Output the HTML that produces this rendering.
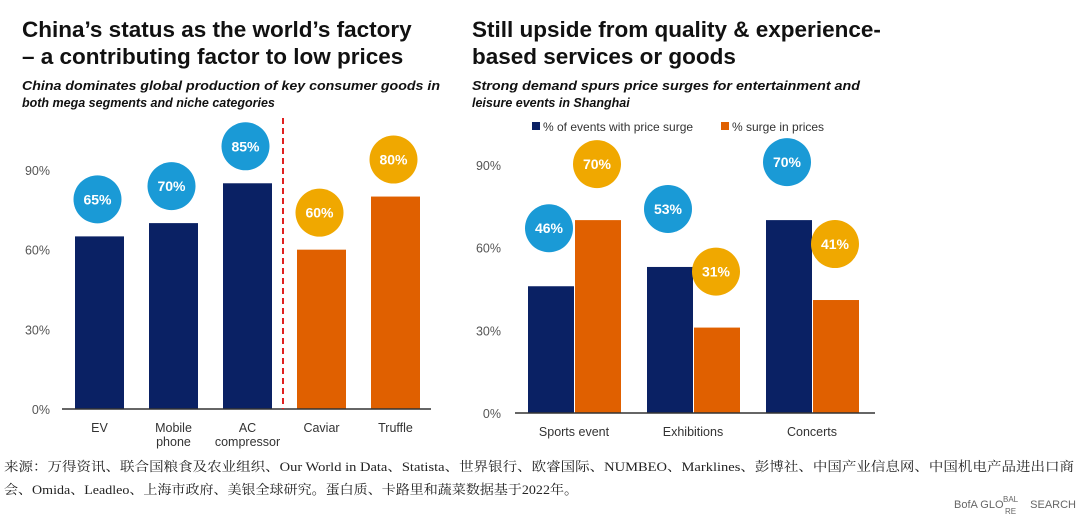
<!DOCTYPE html>
<html><head><meta charset="utf-8"><style>
body{margin:0;width:1080px;height:527px;background:#fff;overflow:hidden;font-family:"Liberation Sans","Noto Sans CJK SC",sans-serif;}
svg{position:absolute;left:0;top:0}
</style></head><body>
<svg width="1080" height="527">
<g font-family="Liberation Sans, sans-serif" fill="#111">
<text x="22" y="37" font-size="22.5" font-weight="bold">China’s status as the world’s factory</text>
<text x="22" y="64" font-size="22.5" font-weight="bold">– a contributing factor to low prices</text>
<text x="22" y="90" font-size="12.5" font-weight="bold" font-style="italic" textLength="418" lengthAdjust="spacingAndGlyphs">China dominates global production of key consumer goods in</text>
<text x="22" y="107" font-size="12.5" font-weight="bold" font-style="italic">both mega segments and niche categories</text>
<text x="472" y="37" font-size="22.5" font-weight="bold">Still upside from quality &amp; experience-</text>
<text x="472" y="64" font-size="22.5" font-weight="bold">based services or goods</text>
<text x="472" y="90" font-size="12.5" font-weight="bold" font-style="italic" textLength="388" lengthAdjust="spacingAndGlyphs">Strong demand spurs price surges for entertainment and</text>
<text x="472" y="107" font-size="12.5" font-weight="bold" font-style="italic">leisure events in Shanghai</text>
</g>
<g font-size="12" fill="#333">
<rect x="532" y="122" width="8" height="8" fill="#0a2164"/>
<text x="543" y="131">% of events with price surge</text>
<rect x="721" y="122" width="8" height="8" fill="#e06000"/>
<text x="732" y="131">% surge in prices</text>
</g>
<g id="left"></g><g id="right"></g>
<g font-family="Liberation Serif, Noto Serif CJK SC, serif" font-size="13" fill="#222">
<text x="4" y="471" textLength="1070" lengthAdjust="spacingAndGlyphs">来源：万得资讯、联合国粮食及农业组织、Our World in Data、Statista、世界银行、欧睿国际、NUMBEO、Marklines、彭博社、中国产业信息网、中国机电产品进出口商</text>
<text x="4" y="494" textLength="574" lengthAdjust="spacingAndGlyphs">会、Omida、Leadleo、上海市政府、美银全球研究。蛋白质、卡路里和蔬菜数据基于2022年。</text>
</g>
<g font-size="11" fill="#666">
<text x="954" y="508">BofA GLO</text><text x="1003" y="502" font-size="8">BAL</text><text x="1005" y="514" font-size="8">RE</text><text x="1076" y="508" text-anchor="end">SEARCH</text>
</g>
</svg>
<script>
const leftCats=["EV","Mobile|phone","AC|compressor","Caviar","Truffle"];
const leftVals=[65,70,85,60,80];
const leftTicks=[0,30,60,90];
const rightCats=["Sports event","Exhibitions","Concerts"];
const seriesEvents=[46,53,70];
const seriesSurge=[70,31,41];
const rightTicks=[0,30,60,90];
const NS="http://www.w3.org/2000/svg";
function mk(p,t,a){const e=document.createElementNS(NS,t);for(const k in a)e.setAttribute(k,a[k]);p.appendChild(e);return e;}
const NAVY="#0a2164",ORG="#e06000",BLUE="#1a9ad6",GOLD="#f0a800";
function bubble(g,cx,cy,col,v){
 const c=mk(g,"circle",{cx:cx,cy:cy,r:24,fill:col});
 
 
 const t=mk(g,"text",{x:cx,y:cy+5,"text-anchor":"middle","font-size":14,"font-weight":"bold",fill:"#fff"});t.textContent=v+"%";
 
 
}
const L=document.getElementById("left");
const ly=v=>409-v*(239/90);
leftTicks.forEach(t=>{const e=mk(L,"text",{x:50,y:ly(t)+5,"text-anchor":"end","font-size":12.5,fill:"#555"});e.textContent=t+"%";
 
 });
leftCats.forEach((c,i)=>{const x=75+i*74,w=49,v=leftVals[i];const orange=i>=3;
 const r=mk(L,"rect",{x:x,y:ly(v),width:w,height:409-ly(v),fill:orange?ORG:NAVY});
 
 
 bubble(L,x+w/2-2,ly(v)-37,orange?GOLD:BLUE,v);
 c.split('|').forEach((s,j)=>{const t=mk(L,"text",{x:x+w/2,y:432+j*14,"text-anchor":"middle","font-size":12.5,fill:"#333"});t.textContent=s;
  
  });
});
const ax=mk(L,"line",{x1:62,x2:431,y1:409,y2:409,stroke:"#333","stroke-width":1.5});


const dl=mk(L,"line",{x1:283,x2:283,y1:118,y2:409,stroke:"#e02020","stroke-width":2,"stroke-dasharray":"6,4"});


const R=document.getElementById("right");
const ry=v=>413-v*(248/90);
rightTicks.forEach(t=>{const e=mk(R,"text",{x:501,y:ry(t)+5,"text-anchor":"end","font-size":12.5,fill:"#555"});e.textContent=t+"%";
 
 });
rightCats.forEach((c,i)=>{const x=528+i*119,w=46;
 const a=seriesEvents[i],b=seriesSurge[i];
 const r1=mk(R,"rect",{x:x,y:ry(a),width:w,height:413-ry(a),fill:NAVY});
 
 
 const r2=mk(R,"rect",{x:x+w+1,y:ry(b),width:w,height:413-ry(b),fill:ORG});
 
 
 bubble(R,x+21,ry(a)-58,BLUE,a);
 bubble(R,x+w+23,ry(b)-56,GOLD,b);
 const t=mk(R,"text",{x:x+w,y:436,"text-anchor":"middle","font-size":12.5,fill:"#333"});t.textContent=c;
 
 
});
const ax2=mk(R,"line",{x1:515,x2:875,y1:413,y2:413,stroke:"#333","stroke-width":1.5});


</script>
</body></html>
